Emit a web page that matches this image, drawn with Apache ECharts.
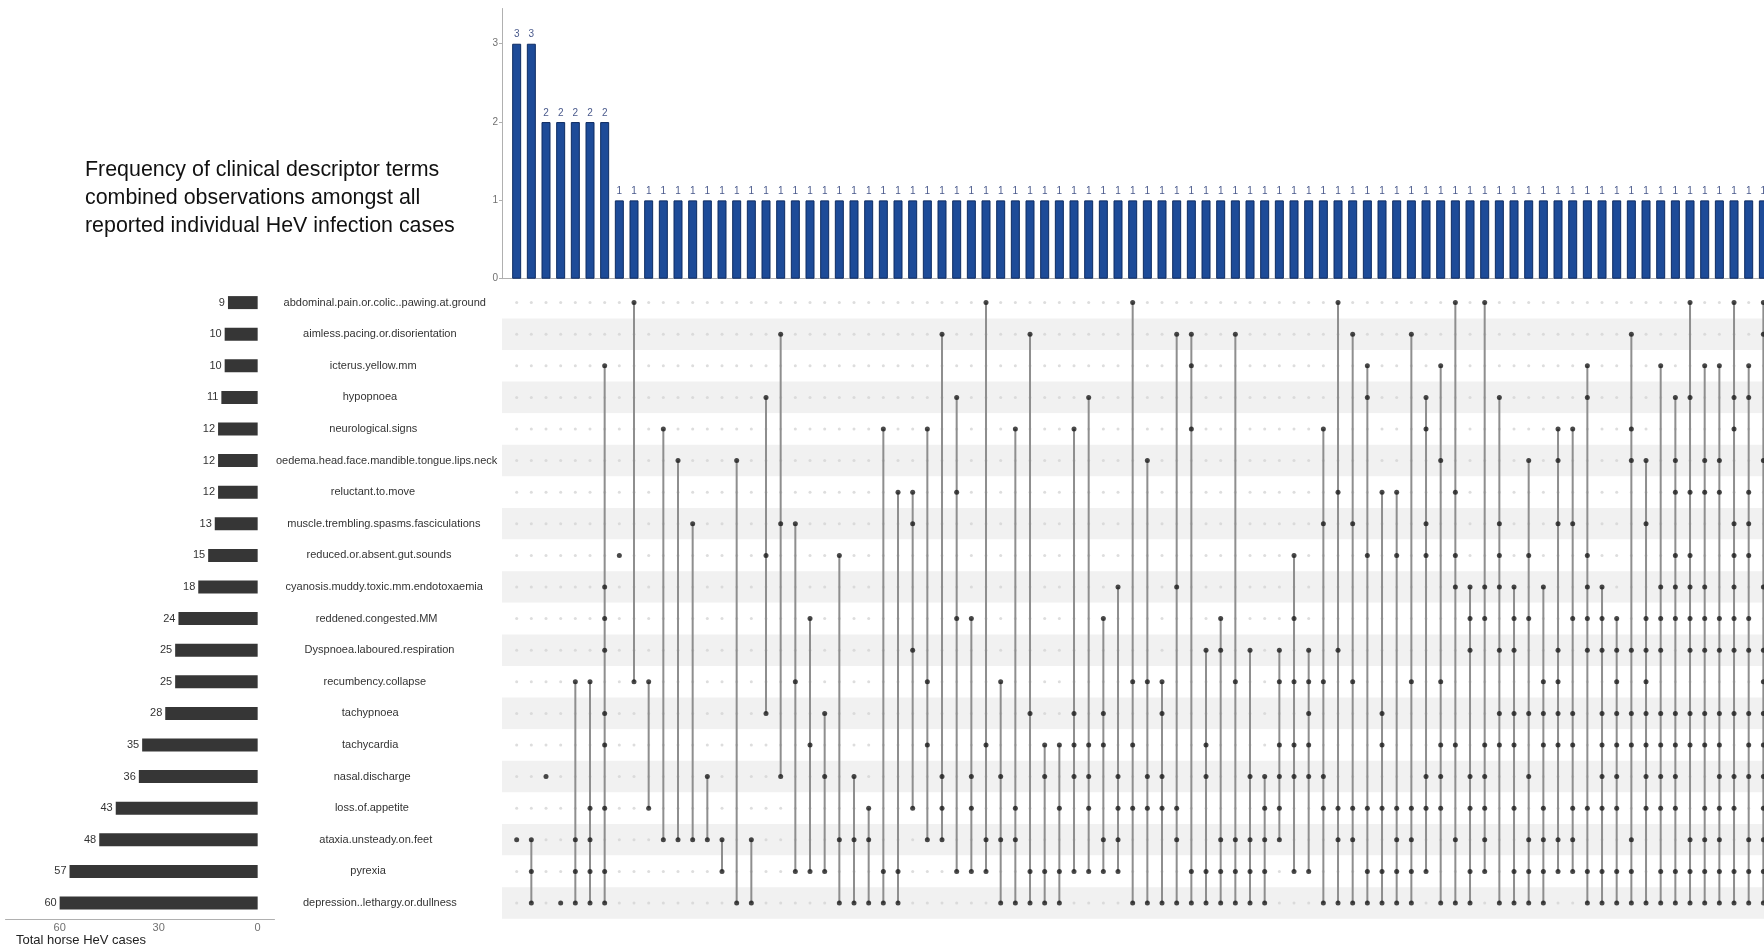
<!DOCTYPE html>
<html>
<head>
<meta charset="utf-8">
<script src="https://cdn.jsdelivr.net/npm/echarts@6/dist/echarts.min.js"></script>
<style>
  html, body { margin: 0; padding: 0; background: #ffffff; }
  #chart { width: 1764px; height: 948px; }
</style>
</head>
<body>
<div id="chart"></div>
<script>
// Clinical descriptor terms (matrix rows, top to bottom)
const symptoms = [
  'abdominal.pain.or.colic..pawing.at.ground',
  'aimless.pacing.or.disorientation',
  'icterus.yellow.mm',
  'hypopnoea',
  'neurological.signs',
  'oedema.head.face.mandible.tongue.lips.neck',
  'reluctant.to.move',
  'muscle.trembling.spasms.fasciculations',
  'reduced.or.absent.gut.sounds',
  'cyanosis.muddy.toxic.mm.endotoxaemia',
  'reddened.congested.MM',
  'Dyspnoea.laboured.respiration',
  'recumbency.collapse',
  'tachypnoea',
  'tachycardia',
  'nasal.discharge',
  'loss.of.appetite',
  'ataxia.unsteady.on.feet',
  'pyrexia',
  'depression..lethargy.or.dullness'
];

// Total horse cases reporting each term
const setSizes = [9, 10, 10, 11, 12, 12, 12, 13, 15, 18, 24, 25, 25, 28, 35, 36, 43, 48, 57, 60];

// Term combinations (row indices into symptoms), one per column
const combos = [
  [17], [17, 18, 19], [15], [19], [12, 17, 18, 19], [12, 16, 17, 18, 19],
  [2, 9, 10, 11, 13, 14, 16, 18, 19],
  [8], [0, 12], [12, 16], [4, 17], [5, 17], [7, 17], [15, 17], [17, 18], [5, 19], [17, 19],
  [3, 8, 13], [1, 7, 15], [7, 12, 18], [10, 14, 18], [13, 15, 18], [8, 17, 19], [15, 17, 19],
  [16, 17, 19], [4, 18, 19], [6, 18, 19],
  [6, 7, 11, 16], [4, 12, 14, 17], [1, 15, 16, 17], [3, 6, 10, 18], [10, 15, 16, 18],
  [0, 14, 17, 18], [12, 15, 17, 19], [4, 16, 17, 19], [1, 13, 18, 19], [14, 15, 18, 19],
  [14, 16, 18, 19],
  [4, 13, 14, 15, 18], [3, 14, 15, 16, 18], [10, 13, 14, 17, 18], [9, 15, 16, 17, 18],
  [0, 12, 14, 16, 19], [5, 12, 15, 16, 19], [12, 13, 15, 16, 19], [1, 9, 16, 17, 19],
  [1, 2, 4, 18, 19], [11, 14, 15, 18, 19], [10, 11, 17, 18, 19], [1, 12, 17, 18, 19],
  [11, 15, 17, 18, 19], [15, 16, 17, 18, 19],
  [11, 12, 14, 15, 16, 17], [8, 10, 12, 14, 15, 18], [11, 12, 13, 14, 15, 18],
  [4, 7, 12, 15, 16, 19], [0, 6, 11, 16, 17, 19], [1, 7, 12, 16, 17, 19],
  [2, 3, 8, 16, 18, 19], [6, 13, 14, 16, 18, 19], [6, 8, 16, 17, 18, 19],
  [1, 12, 16, 17, 18, 19],
  [3, 4, 7, 8, 15, 16, 18], [2, 5, 12, 14, 15, 16, 19], [0, 6, 8, 9, 14, 17, 19],
  [9, 10, 11, 15, 16, 18, 19],
  [0, 9, 10, 14, 15, 16, 17, 18], [3, 7, 8, 9, 11, 13, 14, 19], [9, 10, 11, 13, 14, 16, 18, 19],
  [5, 8, 10, 13, 15, 17, 18, 19], [9, 12, 13, 14, 16, 17, 18, 19],
  [4, 5, 7, 11, 12, 13, 14, 17, 18], [4, 7, 10, 13, 14, 16, 17, 18],
  [2, 3, 8, 9, 10, 11, 16, 18, 19], [9, 10, 11, 13, 14, 15, 16, 18, 19],
  [10, 11, 12, 13, 14, 15, 16, 18, 19], [1, 4, 5, 11, 13, 14, 17, 18, 19],
  [5, 7, 10, 11, 12, 13, 14, 15, 16, 19], [2, 9, 10, 11, 13, 14, 15, 16, 18, 19],
  [3, 5, 6, 8, 9, 10, 13, 14, 15, 16, 18, 19], [0, 3, 6, 8, 9, 10, 11, 13, 14, 17, 18, 19],
  [2, 5, 6, 9, 10, 11, 13, 14, 16, 17, 18, 19], [2, 5, 6, 10, 11, 13, 14, 15, 16, 17, 18, 19],
  [0, 3, 4, 7, 8, 9, 10, 11, 13, 15, 16, 18, 19], [2, 3, 6, 7, 8, 10, 11, 13, 14, 15, 17, 18, 19],
  [0, 1, 5, 9, 11, 12, 13, 14, 15, 16, 17, 18, 19]
];

// Number of cases showing each combination
const comboCounts = [
  3, 3, 2, 2, 2, 2, 2,
  1, 1, 1, 1, 1, 1, 1, 1, 1, 1, 1, 1, 1, 1, 1, 1, 1, 1, 1, 1,
  1, 1, 1, 1, 1, 1, 1, 1, 1, 1, 1, 1, 1, 1, 1, 1, 1, 1, 1, 1,
  1, 1, 1, 1, 1, 1, 1, 1, 1, 1, 1, 1, 1, 1, 1, 1, 1, 1, 1, 1,
  1, 1, 1, 1, 1, 1, 1, 1, 1, 1, 1, 1, 1, 1, 1, 1, 1, 1, 1
];

// Axis tick labels
const countTicks = [0, 1, 2, 3];
const sizeTicks = [0, 30, 60];

const titleLines = [
  'Frequency of clinical descriptor terms',
  'combined observations amongst all',
  'reported individual HeV infection cases'
];
const sizeAxisTitle = 'Total horse HeV cases';

const FONT = '"Liberation Sans", Arial, Helvetica, sans-serif';
const LABEL_FONT = '11px ' + FONT;
const COL_STEP = 14.667;                 // px per combination column
const PLOT_LEFT = 502;
const PLOT_W = 1764 - PLOT_LEFT;         // plot runs to the right edge of the page
const X_MIN = -1;
const X_MAX = X_MIN + PLOT_W / COL_STEP;

// Matrix pieces built from the combinations
const idleDots = [];
const activeDots = [];
const links = [];
combos.forEach((rows, c) => {
  for (let r = 0; r < symptoms.length; r++) {
    (rows.includes(r) ? activeDots : idleDots).push([c, r]);
  }
  links.push([c, Math.min(...rows), Math.max(...rows)]);
});

// text widths for placing the term labels
const measureCtx = document.createElement('canvas').getContext('2d');
measureCtx.font = LABEL_FONT;
const textWidth = s => measureCtx.measureText(s).width;

const chart = echarts.init(document.getElementById('chart'), null, { renderer: 'canvas' });

chart.setOption({
  animation: false,
  backgroundColor: '#ffffff',
  textStyle: { fontFamily: FONT },
  title: {
    text: titleLines.join('\n'),
    left: 85,
    top: 156,
    padding: 0,
    textStyle: { fontFamily: FONT, fontSize: 21.4, fontWeight: 'normal', color: '#111111', lineHeight: 28 }
  },
  graphic: [{
    type: 'text',
    left: 16,
    top: 934,
    style: { text: sizeAxisTitle, font: '13px ' + FONT, fill: '#222222' }
  }],
  grid: [
    { left: PLOT_LEFT, top: 8.5, width: PLOT_W, height: 270.2 },
    { left: PLOT_LEFT, top: 286.8, width: PLOT_W, height: 632 },
    { left: 5.5, top: 286.8, width: 269, height: 632 }
  ],
  xAxis: [
    {
      gridIndex: 0, type: 'value', min: X_MIN, max: X_MAX,
      axisLine: { show: true, lineStyle: { color: '#b0b0b0', width: 1 } },
      axisTick: { show: false }, axisLabel: { show: false }, splitLine: { show: false }
    },
    {
      gridIndex: 1, type: 'value', min: X_MIN, max: X_MAX, show: false,
      splitLine: { show: false }
    },
    {
      gridIndex: 2, type: 'value', inverse: true, min: -5.1, max: 76.4,
      axisLine: { show: true, onZero: false, lineStyle: { color: '#b0b0b0', width: 1 } },
      axisTick: { show: false },
      axisLabel: { customValues: sizeTicks, color: '#707070', fontSize: 11, margin: 4 },
      splitLine: { show: false }
    }
  ],
  yAxis: [
    {
      gridIndex: 0, type: 'value', min: 0, max: 3.45,
      axisLine: { show: true, onZero: false, lineStyle: { color: '#b0b0b0', width: 1 } },
      axisTick: { show: true, length: 3, customValues: countTicks, lineStyle: { color: '#b0b0b0' } },
      axisLabel: { customValues: countTicks, color: '#707070', fontSize: 10, margin: 4 },
      splitLine: { show: false }
    },
    {
      gridIndex: 1, type: 'category', data: symptoms, inverse: true,
      axisLine: { show: false }, axisTick: { show: false }, axisLabel: { show: false },
      splitArea: { show: true, interval: 0, areaStyle: { color: ['#ffffff', '#f1f1f1'] } }
    },
    {
      gridIndex: 2, type: 'category', data: symptoms, inverse: true,
      axisLine: { show: false }, axisTick: { show: false }, axisLabel: { show: false }
    }
  ],
  series: [
    {
      name: 'Combination size',
      type: 'bar', xAxisIndex: 0, yAxisIndex: 0,
      data: comboCounts.map((v, i) => [i, v]),
      barWidth: 9,
      itemStyle: { color: '#1d4b98', borderColor: '#0e2c63', borderWidth: 1 },
      label: {
        show: true, position: 'top', distance: 4, fontSize: 10, color: '#4a5a8c',
        formatter: p => p.value[1]
      }
    },
    {
      name: 'Set size',
      type: 'bar', xAxisIndex: 2, yAxisIndex: 2,
      data: setSizes,
      barWidth: 13,
      itemStyle: { color: '#363636' },
      label: { show: true, position: 'left', distance: 3, fontSize: 11, color: '#333333' }
    },
    {
      // term names, placed in the column between the set-size bars and the matrix
      name: 'Terms',
      type: 'custom', xAxisIndex: 1, yAxisIndex: 1,
      data: symptoms.map((s, i) => [X_MIN, i]),
      encode: { x: 0, y: 1 },
      silent: true, clip: false,
      renderItem: (params, api) => {
        const p = api.coord([api.value(0), api.value(1)]);
        const name = symptoms[params.dataIndex];
        const w = textWidth(name);
        return {
          type: 'text',
          x: 364.5 + 0.1 * w,
          y: p[1],
          style: { text: name, font: LABEL_FONT, fill: '#333333', align: 'center', verticalAlign: 'middle' }
        };
      }
    },
    {
      name: 'Absent',
      type: 'scatter', xAxisIndex: 1, yAxisIndex: 1,
      data: idleDots, symbolSize: 3, silent: true,
      itemStyle: { color: '#d4d4d4' }, z: 2
    },
    {
      name: 'Links',
      type: 'custom', xAxisIndex: 1, yAxisIndex: 1,
      data: links, silent: true, z: 3,
      encode: { x: 0, y: [1, 2] },
      renderItem: (params, api) => {
        const a = api.coord([api.value(0), api.value(1)]);
        const b = api.coord([api.value(0), api.value(2)]);
        if (Math.abs(a[1] - b[1]) < 0.5) return { type: 'group', children: [] };
        return {
          type: 'line',
          shape: { x1: a[0], y1: a[1], x2: b[0], y2: b[1] },
          style: { stroke: '#8e8e8e', lineWidth: 2 }
        };
      }
    },
    {
      name: 'Present',
      type: 'scatter', xAxisIndex: 1, yAxisIndex: 1,
      data: activeDots, symbolSize: 5, silent: true,
      itemStyle: { color: '#1a1a1a' }, z: 4
    }
  ]
});
</script>
</body>
</html>
